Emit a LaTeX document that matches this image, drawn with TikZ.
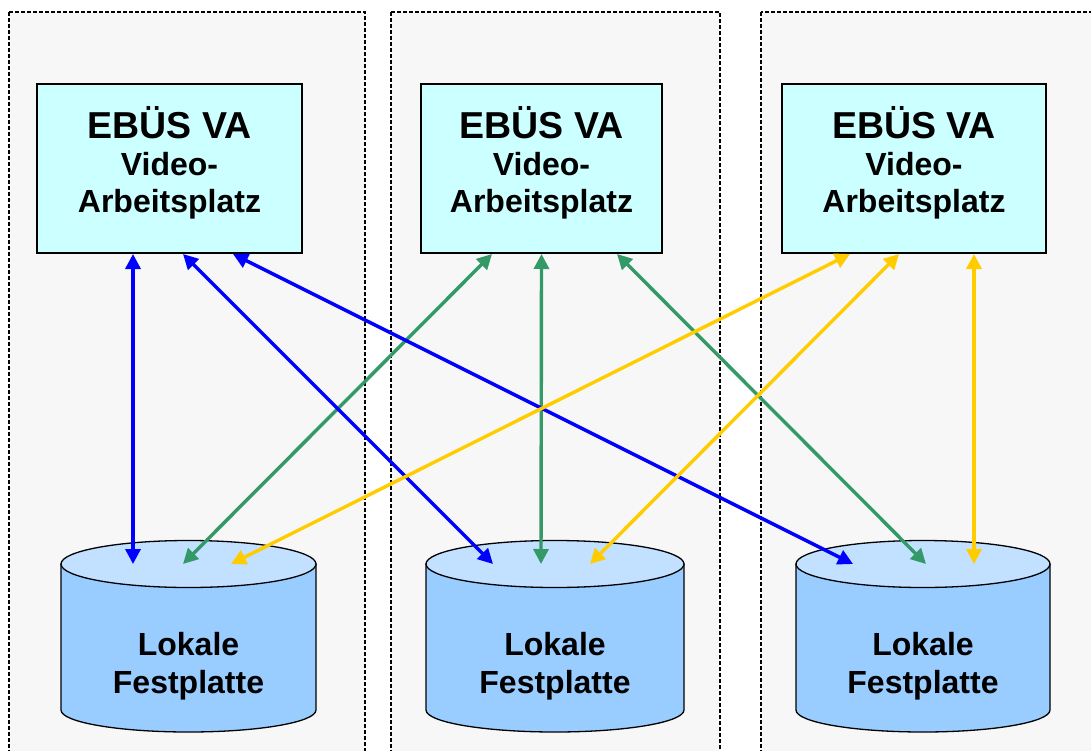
\documentclass[tikz,border=0pt]{standalone}
\usepackage{fontspec}
\setmainfont{Liberation Sans}
\usetikzlibrary{arrows.meta,calc}

\definecolor{panelgray}{HTML}{F7F7F7}
\definecolor{vacyan}{HTML}{CCFFFF}
\definecolor{diskside}{HTML}{99CCFF}
\definecolor{disktop}{HTML}{C2E0FF}
\definecolor{linkblue}{HTML}{0000FF}
\definecolor{linkgreen}{HTML}{339966}
\definecolor{linkyellow}{HTML}{FFCC00}

\tikzset{
	panel/.style={draw, dash pattern=on 4pt off 2pt, line width=1.2pt, fill=panelgray},
	vabox/.style={draw, line width=2pt, fill=vacyan, minimum height=169pt, inner sep=0pt,
		align=center, text depth=19pt, font=\bfseries\fontsize{32}{37}\selectfont},
	disk/.style={draw, line width=1.3pt},
	disktext/.style={align=center, font=\bfseries\fontsize{32}{38}\selectfont},
	link/.style={{Triangle[length=15pt,width=15pt]}-{Triangle[length=15pt,width=15pt]}, line width=3.4pt},
}

\begin{document}
\begin{tikzpicture}[x=1pt,y=-1pt]
		\useasboundingbox (0,0) rectangle (1091,751);

		% the three workstation columns
		\draw[panel] (9,12) rectangle (365,780);
		\draw[panel] (391,12) rectangle (720,780);
		\draw[panel] (761,12) rectangle (1110,780);

		% workstations
		\node[vabox, minimum width=265pt] (va1) at (169.5,168.5) {{\fontsize{37.5}{37}\selectfont EBÜS VA}\\Video-\\Arbeitsplatz};
		\node[vabox, minimum width=241pt] (va2) at (541.5,168.5) {{\fontsize{37.5}{37}\selectfont EBÜS VA}\\Video-\\Arbeitsplatz};
		\node[vabox, minimum width=264pt] (va3) at (914,168.5) {{\fontsize{37.5}{37}\selectfont EBÜS VA}\\Video-\\Arbeitsplatz};

		% local disks
		\draw[disk, fill=diskside] (61,564) -- (61,710) arc[start angle=180, end angle=360, x radius=127.5pt, y radius=22pt] -- (316,564) -- cycle;
		\draw[disk, fill=disktop] (188.5,564) ellipse [x radius=127.5pt, y radius=23.5pt];
		\coordinate (top1) at (188.5,564);
		\node[disktext] (hd1) at (188.5,666) {Lokale\\Festplatte};

		\draw[disk, fill=diskside] (426,564) -- (426,710) arc[start angle=180, end angle=360, x radius=129pt, y radius=22pt] -- (684,564) -- cycle;
		\draw[disk, fill=disktop] (555,564) ellipse [x radius=129pt, y radius=23.5pt];
		\coordinate (top2) at (555,564);
		\node[disktext] (hd2) at (555,666) {Lokale\\Festplatte};

		\draw[disk, fill=diskside] (796,564) -- (796,710) arc[start angle=180, end angle=360, x radius=127pt, y radius=22pt] -- (1050,564) -- cycle;
		\draw[disk, fill=disktop] (923,564) ellipse [x radius=127pt, y radius=23.5pt];
		\coordinate (top3) at (923,564);
		\node[disktext] (hd3) at (923,666) {Lokale\\Festplatte};

		% every workstation reaches every disk
		\draw[link, linkgreen] ($(va2.south)+(-49.5,0)$) -- ($(top1)+(-5.5,0)$);
		\draw[link, linkgreen] ($(va2.south)+(0,0)$) -- ($(top2)+(-14,0)$);
		\draw[link, linkgreen] ($(va2.south)+(75.5,0)$) -- ($(top3)+(3,0)$);

		\draw[link, linkblue] ($(va1.south)+(-36.5,0)$) -- ($(top1)+(-55.5,0)$);
		\draw[link, linkblue] ($(va1.south)+(13.5,0)$) -- ($(top2)+(-62,0)$);
		\draw[link, linkblue] ($(va1.south)+(63.5,0)$) -- ($(top3)+(-70,0)$);

		\draw[link, linkyellow] ($(va3.south)+(-64,0)$) -- ($(top1)+(42.5,0)$);
		\draw[link, linkyellow] ($(va3.south)+(-15,0)$) -- ($(top2)+(35,0)$);
		\draw[link, linkyellow] ($(va3.south)+(60,0)$) -- ($(top3)+(51,0)$);
	\end{tikzpicture}
\end{document}
